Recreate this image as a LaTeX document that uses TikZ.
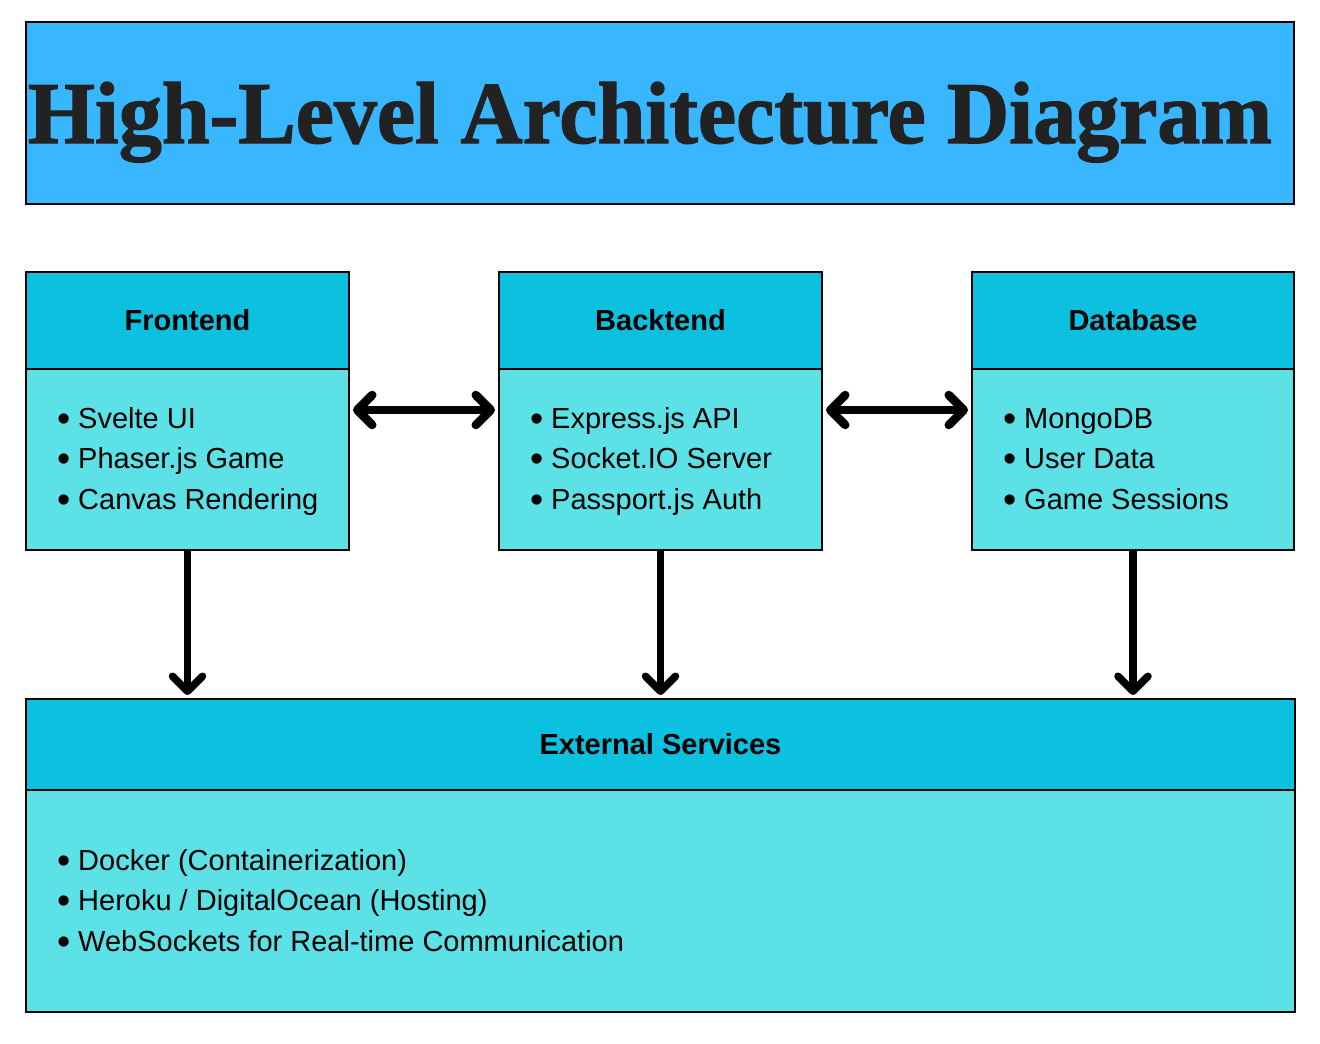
\documentclass[tikz,border=0pt]{standalone}
\usepackage{fontspec}
\setmainfont{Liberation Sans}
\newfontfamily\titlefont[FakeBold=1.5]{Liberation Serif Bold}
\usetikzlibrary{arrows.meta,calc}
\definecolor{titleblue}{HTML}{38B6FF}
\definecolor{headcyan}{HTML}{0CC0DF}
\definecolor{bodycyan}{HTML}{5CE1E6}
\definecolor{titleink}{HTML}{222222}
\tikzset{
  titlebox/.style={draw=black, line width=2pt, fill=titleblue, anchor=north west, inner sep=0pt},
  headbox/.style={draw=black, line width=2pt, fill=headcyan, anchor=north west, inner sep=0pt,
    font=\fontsize{29}{32}\selectfont\bfseries, text=black},
  bodybox/.style={draw=black, line width=2pt, fill=bodycyan, anchor=north west, inner sep=0pt},
  item/.style={anchor=base west, inner sep=0pt, font=\fontsize{29}{32}\selectfont, text=black},
  link/.style={line width=8.5pt, draw=black, {Straight Barb[length=15pt,width=30pt,round]}-{Straight Barb[length=15pt,width=30pt,round]}},
  down/.style={line width=7.5pt, draw=black, -{Straight Barb[length=15pt,width=30pt,round]}},
}
\newcommand{\bul}[1]{\makebox[21pt][l]{\raisebox{-3pt}{\scalebox{1.3}{•}}}#1}
\begin{document}
\begin{tikzpicture}[x=1pt,y=-1pt]
\useasboundingbox (0,0) rectangle (1320,1044);
% title
\node[titlebox, minimum width=1268pt, minimum height=182pt] (title) at (25,21) {};
\node[anchor=base, inner sep=0pt, text=titleink] (titletext) at (650,143)
  {\resizebox{1244pt}{\height}{\titlefont\fontsize{88}{90}\selectfont High-Level Architecture Diagram}};
% frontend
\node[headbox, minimum width=323pt, minimum height=97pt] (fh) at (25,271) {Frontend};
\node[bodybox, minimum width=323pt, minimum height=181pt] (fb) at (25,368) {};
\node[item] (f1) at (57,428) {\bul{Svelte UI}};
\node[item] (f2) at (57,468) {\bul{Phaser.js Game}};
\node[item] (f3) at (57,509) {\bul{Canvas Rendering}};
% backend
\node[headbox, minimum width=323pt, minimum height=97pt] (bh) at (498,271) {Backtend};
\node[bodybox, minimum width=323pt, minimum height=181pt] (bb) at (498,368) {};
\node[item] (b1) at (530,428) {\bul{Express.js API}};
\node[item] (b2) at (530,468) {\bul{Socket.IO Server}};
\node[item] (b3) at (530,509) {\bul{Passport.js Auth}};
% database
\node[headbox, minimum width=322pt, minimum height=97pt] (dh) at (971,271) {Database};
\node[bodybox, minimum width=322pt, minimum height=181pt] (db) at (971,368) {};
\node[item] (d1) at (1003,428) {\bul{MongoDB}};
\node[item] (d2) at (1003,468) {\bul{User Data}};
\node[item] (d3) at (1003,509) {\bul{Game Sessions}};
% external
\node[headbox, minimum width=1269pt, minimum height=91pt] (eh) at (25,698) {External Services};
\node[bodybox, minimum width=1269pt, minimum height=222pt] (eb) at (25,789) {};
\node[item] (e1) at (57,870) {\bul{Docker (Containerization)}};
\node[item] (e2) at (57,910) {\bul{Heroku / DigitalOcean (Hosting)}};
\node[item] (e3) at (57,951) {\bul{WebSockets for Real-time Communication}};
% connectors
\draw[link] ($(fb.north east)+(3,42)$) -- ($(bb.north west)+(-3,42)$);
\draw[link] ($(bb.north east)+(3,42)$) -- ($(db.north west)+(-3,42)$);
\draw[down] (fb.south) -- ($(fb.south |- eh.north)+(0,-3)$);
\draw[down] (bb.south) -- ($(bb.south |- eh.north)+(0,-3)$);
\draw[down] (db.south) -- ($(db.south |- eh.north)+(0,-3)$);
\end{tikzpicture}
\end{document}
